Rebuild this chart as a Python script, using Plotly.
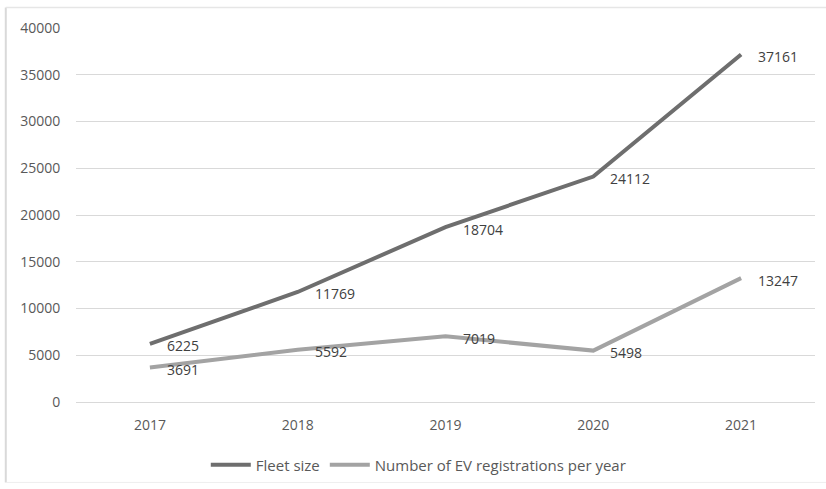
import plotly.graph_objects as go

years = ["2017", "2018", "2019", "2020", "2021"]
fleet_size = [6225, 11769, 18704, 24112, 37161]
registrations = [3691, 5592, 7019, 5498, 13247]

series = [
    ("Fleet size", fleet_size, "#6e6e6e"),
    ("Number of EV registrations per year", registrations, "#a3a3a3"),
]

FONT = "Open Sans"

fig = go.Figure()
for name, values, color in series:
    fig.add_trace(go.Scatter(
        x=years, y=values, name=name, mode="lines",
        line=dict(color=color, width=4),
        hoverinfo="x+y",
    ))
    # value labels to the right of each point (category index as x)
    for i, v in enumerate(values):
        fig.add_annotation(
            x=i, y=v, text=str(v), showarrow=False,
            xanchor="left", yanchor="middle", xshift=15, yshift=-2,
            font=dict(family=FONT, size=14, color="#404040"),
        )

fig.update_layout(
    width=826, height=489,
    margin=dict(l=76, r=11, t=28, b=87, autoexpand=False),
    paper_bgcolor="white", plot_bgcolor="white",
    font=dict(family=FONT, size=14, color="#595959"),
    showlegend=True,
    legend=dict(
        orientation="h", xref="container", yref="container",
        x=0.507, xanchor="center", y=0.049, yanchor="middle",
        font=dict(family=FONT, size=15, color="#595959"),
        itemwidth=40,
    ),
    shapes=[
        dict(type="line", xref="paper", yref="paper", x0=-0.095, x1=-0.095,
             y0=-0.215, y1=1.055, line=dict(color="#d9d9d9", width=2)),
        dict(type="line", xref="paper", yref="paper", x0=-0.095, x1=1.02,
             y0=1.055, y1=1.055, line=dict(color="#e6e6e6", width=1.5)),
        dict(type="line", xref="paper", yref="paper", x0=-0.095, x1=1.02,
             y0=-0.215, y1=-0.215, line=dict(color="#eeeeee", width=1)),
    ],
)
fig.update_xaxes(
    type="category", range=[-0.5, 4.5], showgrid=False, showline=False,
    zeroline=False, ticks="outside", ticklen=10, tickcolor="rgba(0,0,0,0)",
    tickfont=dict(family=FONT, size=14, color="#595959"),
)
fig.update_yaxes(
    range=[0, 40000], dtick=5000, tickformat="d", showgrid=True,
    gridcolor="#d9d9d9", gridwidth=1, zeroline=True, zerolinecolor="#d9d9d9",
    zerolinewidth=1, showline=False, ticks="outside", ticklen=12,
    tickcolor="rgba(0,0,0,0)",
    tickfont=dict(family=FONT, size=14, color="#595959"),
)

fig.write_html("out.html")
